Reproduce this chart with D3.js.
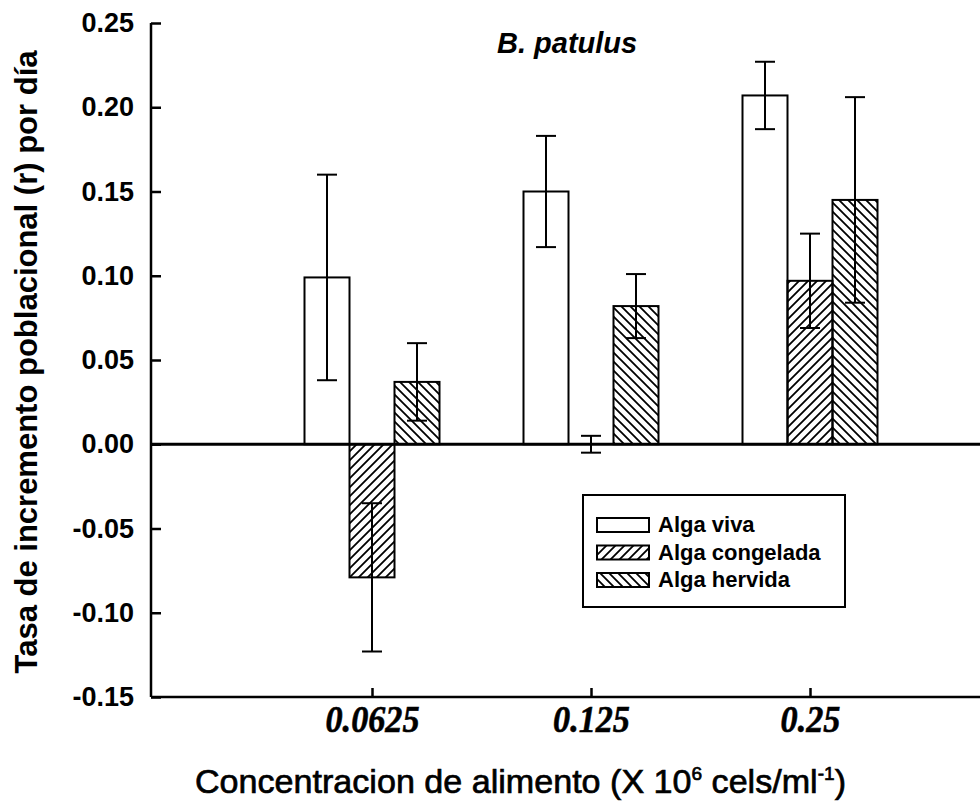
<!DOCTYPE html>
<html>
<head>
<meta charset="utf-8">
<script src="https://cdn.jsdelivr.net/npm/d3@7"></script>
<style>
  html, body { margin: 0; padding: 0; background: #fff; }
  svg { display: block; }
</style>
</head>
<body>
<svg id="chart" width="980" height="806"></svg>
<script>
// Population growth rate of B. patulus under three algal food treatments
const concentrations = ["0.0625", "0.125", "0.25"];
const seriesNames = ["Alga viva", "Alga congelada", "Alga hervida"];

const vivaValues = [0.099, 0.150, 0.207];
const vivaErrors = [0.061, 0.033, 0.020];

const congeladaValues = [-0.079, 0.000, 0.097];
const congeladaErrors = [0.044, 0.005, 0.028];

const hervidaValues = [0.037, 0.082, 0.145];
const hervidaErrors = [0.023, 0.019, 0.061];

const yTicks = [0.25, 0.20, 0.15, 0.10, 0.05, 0.00, -0.05, -0.10, -0.15];

const seriesValues = [vivaValues, congeladaValues, hervidaValues];
const seriesErrors = [vivaErrors, congeladaErrors, hervidaErrors];

const svg = d3.select("#chart");
const plotLeft = 151, plotRight = 980, plotTop = 23, plotBottom = 697;

const defs = svg.append("defs");
// "////" hatch for frozen algae
const p1 = defs.append("pattern").attr("id", "hatch-up")
  .attr("patternUnits", "userSpaceOnUse").attr("width", 9).attr("height", 9);
p1.append("path").attr("d", "M-2,2 L2,-2 M0,9 L9,0 M7,11 L11,7")
  .attr("stroke", "#000").attr("stroke-width", 1.8);
// "\\\\" hatch for boiled algae
const p2 = defs.append("pattern").attr("id", "hatch-down")
  .attr("patternUnits", "userSpaceOnUse").attr("width", 9).attr("height", 9);
p2.append("path").attr("d", "M-2,7 L2,11 M0,0 L9,9 M7,-2 L11,2")
  .attr("stroke", "#000").attr("stroke-width", 1.8);

const fills = ["#fff", "url(#hatch-up)", "url(#hatch-down)"];

const y = d3.scaleLinear().domain([-0.15, 0.25]).range([plotBottom, plotTop]);
const x0 = d3.scalePoint().domain(concentrations).range([plotLeft + 221, plotRight - 170]);
const x1 = d3.scaleBand().domain(seriesNames).range([-67.5, 67.5]);

// Bars
const rows = [];
concentrations.forEach((c, i) => {
  seriesNames.forEach((s, j) => {
    rows.push({ c, s, j, v: seriesValues[j][i], e: seriesErrors[j][i] });
  });
});

svg.append("g").selectAll("rect").data(rows).join("rect")
  .attr("x", d => x0(d.c) + x1(d.s))
  .attr("width", x1.bandwidth())
  .attr("y", d => y(Math.max(0, d.v)))
  .attr("height", d => Math.abs(y(d.v) - y(0)))
  .attr("fill", d => fills[d.j])
  .attr("stroke", "#000").attr("stroke-width", 2);

// Error bars
const eg = svg.append("g").attr("stroke", "#000").attr("stroke-width", 2);
const cap = 10;
rows.forEach(d => {
  const cx = x0(d.c) + x1(d.s) + x1.bandwidth() / 2;
  eg.append("line").attr("x1", cx).attr("x2", cx)
    .attr("y1", y(d.v + d.e)).attr("y2", y(d.v - d.e));
  eg.append("line").attr("x1", cx - cap).attr("x2", cx + cap)
    .attr("y1", y(d.v + d.e)).attr("y2", y(d.v + d.e));
  eg.append("line").attr("x1", cx - cap).attr("x2", cx + cap)
    .attr("y1", y(d.v - d.e)).attr("y2", y(d.v - d.e));
});

// Zero reference line
svg.append("line")
  .attr("x1", plotLeft).attr("x2", plotRight)
  .attr("y1", y(0)).attr("y2", y(0))
  .attr("stroke", "#000").attr("stroke-width", 3);

// Y axis (plain hyphen for negative values)
const fmt = d3.format(".2f");
const yAxis = svg.append("g").attr("transform", `translate(${plotLeft},0)`)
  .call(d3.axisLeft(y).tickValues(yTicks).tickFormat(d => fmt(d).replace("\u2212", "-"))
    .tickSize(-10).tickPadding(17));
yAxis.select(".domain").attr("stroke-width", 2.5).attr("d", `M0,${plotTop}V${plotBottom}`);
yAxis.selectAll(".tick line").attr("stroke-width", 2.5);
yAxis.selectAll(".tick text")
  .attr("font-family", "'Liberation Sans', Arial, sans-serif")
  .attr("font-weight", "bold").attr("font-size", 27).attr("fill", "#000");

// X axis
const xAxis = svg.append("g").attr("transform", `translate(0,${plotBottom})`)
  .call(d3.axisBottom(x0).tickSize(-9).tickPadding(14));
xAxis.select(".domain").attr("stroke-width", 2.5).attr("d", `M${plotLeft},0H${plotRight}`);
xAxis.selectAll(".tick line").attr("stroke-width", 2.5);
xAxis.selectAll(".tick text")
  .attr("font-family", "'Liberation Serif', 'Times New Roman', serif")
  .attr("font-style", "italic").attr("font-weight", "bold")
  .attr("font-size", 38).attr("fill", "#000")
  .attr("stroke", "#000").attr("stroke-width", 0.6)
  .attr("dy", "0.55em")
  .attr("transform", "scale(0.9,1)");

// Title
svg.append("text").attr("x", 497).attr("y", 53)
  .attr("font-family", "'Liberation Sans', Arial, sans-serif")
  .attr("font-style", "italic").attr("font-weight", "bold")
  .attr("font-size", 29).text("B. patulus");

// Y axis title
svg.append("text")
  .attr("transform", `translate(37,${(plotTop + plotBottom) / 2 + 2}) rotate(-90)`)
  .attr("text-anchor", "middle")
  .attr("font-family", "'Liberation Sans', Arial, sans-serif")
  .attr("font-weight", "bold").attr("font-size", 31)
  .text("Tasa de incremento poblacional (r) por día");

// X axis title
const xt = svg.append("text")
  .attr("x", 195).attr("y", 793)
  .attr("font-family", "'Liberation Sans Narrow', 'Liberation Sans', Arial, sans-serif")
  .attr("font-size", 34).attr("stroke", "#000").attr("stroke-width", 0.7)
  .attr("textLength", 651).attr("lengthAdjust", "spacingAndGlyphs");
xt.append("tspan").text("Concentracion de alimento (X 10");
xt.append("tspan").attr("dy", -13).attr("font-size", 19).text("6");
xt.append("tspan").attr("dy", 13).text(" cels/ml");
xt.append("tspan").attr("dy", -13).attr("font-size", 19).text("-1");
xt.append("tspan").attr("dy", 13).text(")");

// Legend
const lg = svg.append("g");
lg.append("rect").attr("x", 583).attr("y", 495).attr("width", 262).attr("height", 112)
  .attr("fill", "#fff").attr("stroke", "#000").attr("stroke-width", 2);
seriesNames.forEach((s, j) => {
  const ly = 518 + j * 27.5;
  lg.append("rect").attr("x", 597).attr("y", ly).attr("width", 52).attr("height", 14)
    .attr("fill", fills[j]).attr("stroke", "#000").attr("stroke-width", 2);
  lg.append("text").attr("x", 658).attr("y", ly + 14)
    .attr("font-family", "'Liberation Sans', Arial, sans-serif")
    .attr("font-weight", "bold").attr("font-size", 22).text(s);
});
</script>
</body>
</html>
